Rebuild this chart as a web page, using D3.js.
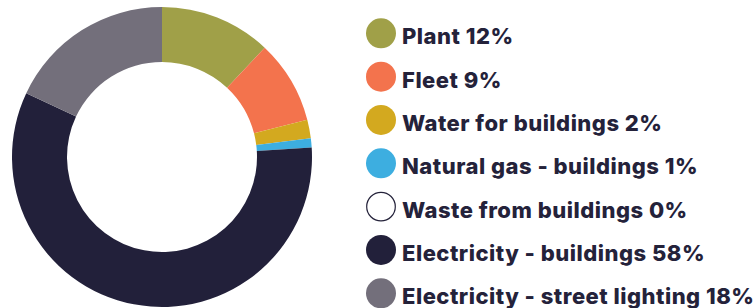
<!DOCTYPE html>
<html>
<head>
<meta charset="utf-8">
<script src="https://cdn.jsdelivr.net/npm/d3@7"></script>
<style>
  body { margin: 0; background: #fff; }
  svg { display: block; }
</style>
</head>
<body>
<svg id="chart" width="753" height="308"></svg>
<script>
// data
var categories = ["Plant", "Fleet", "Water for buildings", "Natural gas - buildings",
                  "Waste from buildings", "Electricity - buildings", "Electricity - street lighting"];
var values = [12, 9, 2, 1, 0, 58, 18];
var colors = ["#a0a048", "#f3734d", "#d3a91f", "#3daee0", "#ffffff", "#22203a", "#736f7b"];

var width = 753, height = 308;
var cx = 162, cy = 157;
var outerR = 150, innerR = 95;
var textColor = "#24223a";

var svg = d3.select("#chart");

var pie = d3.pie().sort(null).value(function(d) { return d; });
var arc = d3.arc().innerRadius(innerR).outerRadius(outerR);

var g = svg.append("g").attr("transform", "translate(" + cx + "," + cy + ")");
g.selectAll("path")
    .data(pie(values))
    .enter().append("path")
    .attr("d", arc)
    .attr("fill", function(d, i) { return colors[i]; });

// legend
var legendY = d3.scaleLinear().domain([0, categories.length - 1]).range([33.3, 293.3]);

var leg = svg.append("g");
var rows = leg.selectAll("g.row")
    .data(categories)
    .enter().append("g")
    .attr("class", "row")
    .attr("transform", function(d, i) { return "translate(0," + legendY(i) + ")"; });

rows.append("circle")
    .attr("cx", 381)
    .attr("r", function(d, i) { return colors[i] === "#ffffff" ? 14.3 : 15; })
    .attr("fill", function(d, i) { return colors[i]; })
    .attr("stroke", function(d, i) { return colors[i] === "#ffffff" ? textColor : "none"; })
    .attr("stroke-width", 1.2);

rows.append("text")
    .attr("x", 402)
    .attr("y", 11)
    .attr("fill", textColor)
    .style("font-family", "Inter, 'Open Sans', sans-serif")
    .style("font-weight", 800)
    .style("font-size", "22px")
    .style("letter-spacing", "0.5px")
    .text(function(d, i) { return d + " " + values[i] + "%"; });
</script>
</body>
</html>
